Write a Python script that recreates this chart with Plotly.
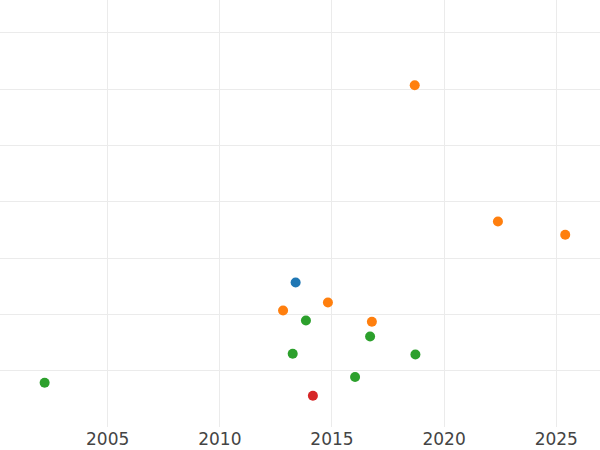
import plotly.graph_objects as go

# Data (x = year, y = arbitrary units; gridlines at 1..7)
blue_x = [2013.38]
blue_y = [2.567]

orange_x = [2018.69, 2022.40, 2025.40, 2012.82, 2014.82, 2016.78]
orange_y = [6.071, 3.650, 3.414, 2.070, 2.212, 1.869]

green_x = [2002.19, 2013.84, 2013.25, 2016.70, 2018.72, 2016.03]
green_y = [0.786, 1.892, 1.301, 1.608, 1.289, 0.888]

red_x = [2014.15]
red_y = [0.556]

x_ticks = [2005, 2010, 2015, 2020, 2025]
y_grid = [1, 2, 3, 4, 5, 6, 7]

series = [
    ("A", blue_x, blue_y, "#1f77b4"),
    ("B", orange_x, orange_y, "#ff7f0e"),
    ("C", green_x, green_y, "#2ca02c"),
    ("D", red_x, red_y, "#d62728"),
]

fig = go.Figure()
for name, xs, ys, col in series:
    fig.add_trace(go.Scatter(x=xs, y=ys, mode="markers", name=name,
                             marker=dict(color=col, size=10)))

fig.update_layout(
    width=600, height=450,
    margin=dict(l=0, r=0, t=0, b=23, pad=0),
    paper_bgcolor="white", plot_bgcolor="white",
    showlegend=False,
    font=dict(family="DejaVu Sans", size=17, color="#444"),
)
fig.update_xaxes(range=[2000.20, 2026.95], tickvals=x_ticks,
                 ticktext=[str(t) for t in x_ticks],
                 showgrid=True, gridcolor="#ebebeb", gridwidth=1,
                 zeroline=False, showline=False, ticks="", automargin=False)
fig.update_yaxes(range=[0, 7.586], tickvals=y_grid, showticklabels=False,
                 showgrid=True, gridcolor="#ebebeb", gridwidth=1,
                 zeroline=False, showline=False, ticks="", automargin=False)

fig.write_html(
    "out.html",
    config={"displayModeBar": False},
    post_script="document.body.style.margin='0';document.body.style.overflow='hidden';",
)
